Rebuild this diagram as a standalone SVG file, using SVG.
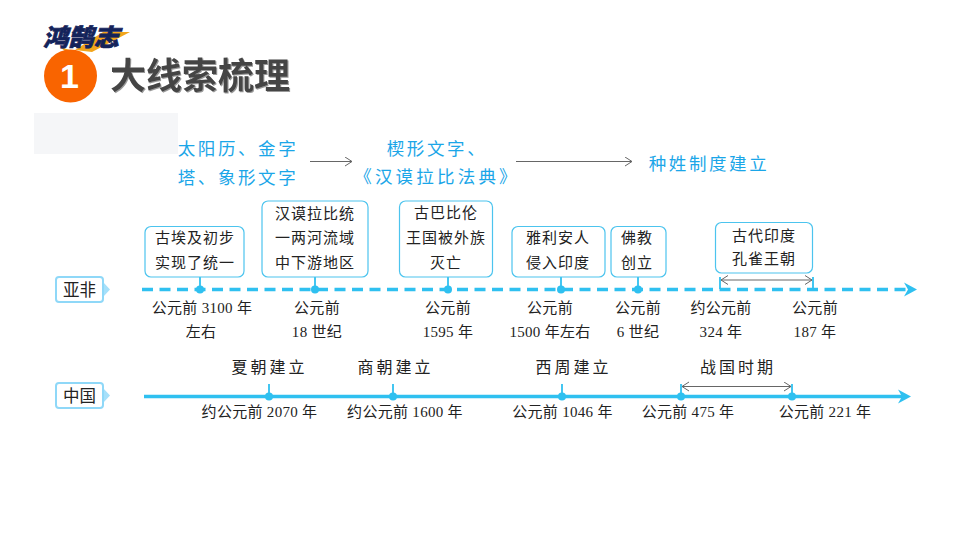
<svg xmlns="http://www.w3.org/2000/svg" width="960" height="540" viewBox="0 0 960 540">
<style>
text{font-family:"Liberation Serif","Noto Sans CJK SC",serif;fill:#222;text-anchor:middle}
.box{fill:#fff;stroke:#4cc4ee;stroke-width:1.200}
.b{font-size:15px;letter-spacing:1px}
.d{font-size:15px;letter-spacing:.3px}
.top{font-size:16px;letter-spacing:3px}
.hand{font-family:"Noto Sans CJK SC",sans-serif;font-size:17.500px;fill:#1ba6e8;letter-spacing:2.600px}
.tag{fill:#fff;stroke:#8fd8f8;stroke-width:2}
.tagt{font-family:"Noto Sans CJK SC",sans-serif;font-size:16.500px;fill:#222}
.ptr{fill:#a6e0fa}
.ln{stroke:#2fc0f0;fill:none}
.dot{fill:#2fc0f0}
.g{stroke:#666;stroke-width:1;fill:none}
</style>
<defs>
<marker id="open" markerWidth="12" markerHeight="12" refX="8" refY="5" orient="auto-start-reverse" markerUnits="userSpaceOnUse"><path d="M1 .5L8 5L1 9.5" fill="none" stroke="#666"/></marker>
<path id="head" d="M0 0L-13 -7L-9 0L-13 7Z" fill="#2fc0f0"/>
<filter id="sh" x="-5%" y="-10%" width="110%" height="130%"><feDropShadow dx="1" dy="1" stdDeviation=".6" flood-color="#999"/></filter>
</defs>
<g id="logo">
<polygon points="60,47 70,50 72,52 66,52" fill="#f2a51c"/>
<polygon points="75,50 103,32 130,32 92,52" fill="#f2a51c"/>
<text x="81" y="46" style="font-family:'Noto Sans CJK SC',sans-serif;font-size:24px;font-weight:900;font-style:italic;fill:#14235a;stroke:#14235a;stroke-width:.7" textLength="76" lengthAdjust="spacingAndGlyphs">鸿鹄志</text>
</g>
<g id="title">
<circle cx="70.500" cy="76" r="26.500" fill="#f96400"/>
<text x="69.500" y="88" style="font-family:'Liberation Sans',sans-serif;font-size:34px;font-weight:700;fill:#fff">1</text>
<text x="200" y="89" filter="url(#sh)" style="font-family:'Noto Sans CJK SC',sans-serif;font-size:36px;font-weight:700;fill:#444">大线索梳理</text>
</g>
<rect id="panel" x="34" y="113" width="144" height="41" fill="#f5f6f8"/>
<g id="connectors">
<line class="g" x1="310" y1="161.500" x2="352" y2="161.500" marker-end="url(#open)"/>
<line class="g" x1="516" y1="161.500" x2="632" y2="161.500" marker-end="url(#open)"/>
<line class="ln" x1="142" y1="289.500" x2="908" y2="289.500" stroke-width="3.500" stroke-dasharray="11 6.500"/>
<use href="#head" transform="translate(917 289.500)"/>
<g class="ln" stroke-width="1.800">
<line x1="200" y1="277" x2="200" y2="289"/><line x1="315" y1="277" x2="315" y2="289"/><line x1="448" y1="277" x2="448" y2="289"/><line x1="561" y1="277" x2="561" y2="289"/><line x1="638" y1="277" x2="638" y2="289"/>
<line x1="720" y1="277" x2="720" y2="289"/><line x1="813" y1="277" x2="813" y2="289"/>
<line x1="269" y1="384" x2="269" y2="396"/><line x1="393" y1="384" x2="393" y2="396"/><line x1="562" y1="384" x2="562" y2="396"/><line x1="681" y1="384" x2="681" y2="396"/><line x1="792" y1="384" x2="792" y2="396"/>
</g>
<g class="dot"><circle cx="200" cy="289.500" r="4"/><circle cx="315" cy="289.500" r="4"/><circle cx="448" cy="289.500" r="4"/><circle cx="561" cy="289.500" r="4"/><circle cx="638" cy="289.500" r="4"/>
<circle cx="269" cy="396.500" r="4"/><circle cx="393" cy="396.500" r="4"/><circle cx="562" cy="396.500" r="4"/><circle cx="681" cy="396.500" r="4"/><circle cx="792" cy="396.500" r="4"/></g>
<line class="g" x1="721" y1="280" x2="812" y2="280" marker-start="url(#open)" marker-end="url(#open)"/>
<line class="ln" x1="144" y1="396.500" x2="904" y2="396.500" stroke-width="3.500"/>
<use href="#head" transform="translate(911 396.500)"/>
<line class="g" x1="682" y1="386.500" x2="791" y2="386.500" marker-start="url(#open)" marker-end="url(#open)"/>
</g>
<g id="hand1"><text class="hand" x="238" y="155">太阳历、金字</text><text class="hand" x="238" y="184">塔、象形文字</text></g>
<g id="hand2"><text class="hand" x="437" y="155">楔形文字、</text><text class="hand" x="437" y="183" style="letter-spacing:3.200px">《汉谟拉比法典》</text></g>
<text id="hand3" class="hand" x="709" y="170">种姓制度建立</text>
<g id="tag-yafei"><polygon class="ptr" points="103,282 110,289.500 103,297"/><rect class="tag" x="56" y="277" width="47" height="25" rx="3"/><text class="tagt" x="79.500" y="295.500">亚非</text></g>
<g id="tag-china"><polygon class="ptr" points="103,388 110,395.500 103,403"/><rect class="tag" x="56" y="383" width="47" height="25" rx="3"/><text class="tagt" x="79.500" y="401.500">中国</text></g>
<g id="n1"><rect class="box" x="145" y="226.500" width="99" height="50.500" rx="6"/><text class="b" x="195" y="243">古埃及初步</text><text class="b" x="195" y="268">实现了统一</text></g>
<g id="n2"><rect class="box" x="262" y="201" width="106" height="76" rx="6"/><text class="b" x="315" y="219">汉谟拉比统</text><text class="b" x="315" y="243">一两河流域</text><text class="b" x="315" y="268">中下游地区</text></g>
<g id="n3"><rect class="box" x="399.500" y="201" width="93" height="76" rx="6"/><text class="b" x="446" y="218">古巴比伦</text><text class="b" x="446" y="243">王国被外族</text><text class="b" x="446" y="268">灭亡</text></g>
<g id="n4"><rect class="box" x="512" y="226.500" width="93" height="50.500" rx="6"/><text class="b" x="558" y="243">雅利安人</text><text class="b" x="558" y="268">侵入印度</text></g>
<g id="n5"><rect class="box" x="611" y="226.500" width="55" height="50.500" rx="6"/><text class="b" x="637" y="243">佛教</text><text class="b" x="637" y="268">创立</text></g>
<g id="n6"><rect class="box" x="715.500" y="222.500" width="97" height="50.500" rx="6"/><text class="b" x="764" y="241">古代印度</text><text class="b" x="764" y="264">孔雀王朝</text></g>
<g id="dates-asia">
<text class="d" x="202" y="313">公元前 3100 年</text><text class="d" x="201" y="337">左右</text>
<text class="d" x="317" y="313">公元前</text><text class="d" x="317" y="337">18 世纪</text>
<text class="d" x="448" y="313">公元前</text><text class="d" x="448" y="337">1595 年</text>
<text class="d" x="550" y="313">公元前</text><text class="d" x="550" y="337">1500 年左右</text>
<text class="d" x="638" y="313">公元前</text><text class="d" x="638" y="337">6 世纪</text>
<text class="d" x="721" y="313">约公元前</text><text class="d" x="721" y="337">324 年</text>
<text class="d" x="815" y="313">公元前</text><text class="d" x="815" y="337">187 年</text>
</g>
<g id="dates-china">
<text class="d" x="259.500" y="416.500">约公元前 2070 年</text><text class="d" x="405" y="416.500">约公元前 1600 年</text><text class="d" x="562.500" y="416.500">公元前 1046 年</text><text class="d" x="688" y="416.500">公元前 475 年</text><text class="d" x="825" y="416.500">公元前 221 年</text>
</g>
<g id="events">
<text class="top" x="269.500" y="373">夏朝建立</text><text class="top" x="395.500" y="373">商朝建立</text><text class="top" x="573.500" y="373">西周建立</text><text class="top" x="738" y="373">战国时期</text>
</g>
</svg>
